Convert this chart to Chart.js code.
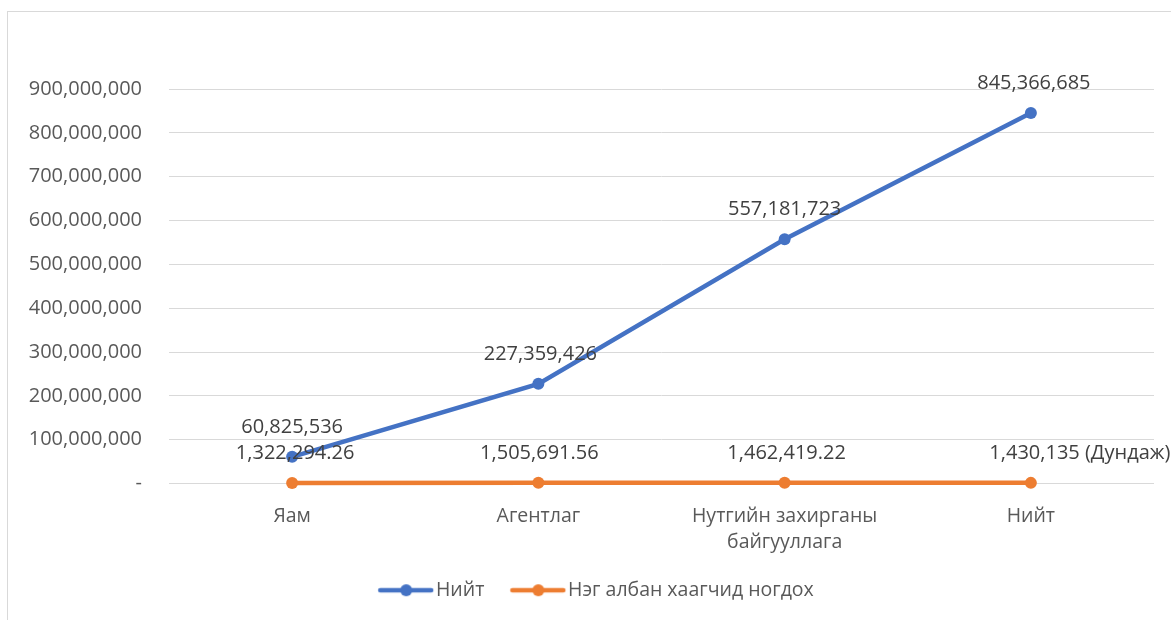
<!DOCTYPE html>
<html><head><meta charset="utf-8">
<script src="https://cdn.jsdelivr.net/npm/chart.js@4.4.0/dist/chart.umd.min.js"></script>
<style>
html,body{margin:0;padding:0;background:#fff;overflow:hidden;}
#wrap{position:relative;width:1171px;height:620px;overflow:hidden;}
#frame{position:absolute;left:7px;top:11px;width:1300px;height:800px;border:1px solid #d9d9d9;box-sizing:border-box;}
canvas{position:absolute;left:0;top:0;}
</style></head><body>
<div id="wrap"><div id="frame"></div><canvas id="c" width="1171" height="620"></canvas></div>
<script>
const categories = ['Яам', 'Агентлаг', ['Нутгийн захирганы', 'байгууллага'], 'Нийт'];
const seriesNames = ['Нийт', 'Нэг албан хаагчид ногдох'];
const totalValues = [60825536, 227359426, 557181723, 845366685];
const perEmployeeValues = [1322294.26, 1505691.56, 1462419.22, 1430135];
const totalLabels = ['60,825,536', '227,359,426', '557,181,723', '845,366,685'];
const perEmployeeLabels = ['1,322,294.26', '1,505,691.56', '1,462,419.22', '1,430,135 (Дундаж)'];
const yTicks = [0, 100000000, 200000000, 300000000, 400000000, 500000000, 600000000, 700000000, 800000000, 900000000];

const FONT = '"Open Sans", "Noto Sans", sans-serif';
const BLUE = '#4472C4', ORANGE = '#ED7D31';

function legendIcon(color) {
  const c = document.createElement('canvas');
  c.width = 84; c.height = 14;
  const x = c.getContext('2d');
  x.strokeStyle = color; x.lineWidth = 4.5; x.lineCap = 'round';
  x.beginPath(); x.moveTo(28, 7); x.lineTo(79, 7); x.stroke();
  x.fillStyle = color; x.beginPath(); x.arc(54, 7, 6, 0, Math.PI * 2); x.fill();
  return c;
}
const icons = [legendIcon(BLUE), legendIcon(ORANGE)];

const labelPlugin = {
  id: 'valueLabels',
  afterDatasetsDraw(chart, args, opts) {
    const ctx = chart.ctx;
    ctx.save();
    ctx.font = '20px ' + FONT;
    ctx.fillStyle = '#404040';
    ctx.textAlign = 'center';
    ctx.textBaseline = 'middle';
    opts.texts.forEach((arr, di) => {
      const meta = chart.getDatasetMeta(di);
      meta.data.forEach((pt, i) => {
        ctx.fillText(arr[i], pt.x + opts.dx[di][i], pt.y - 30);
      });
    });
    ctx.restore();
  }
};

new Chart(document.getElementById('c'), {
  type: 'line',
  data: {
    labels: categories,
    datasets: [
      { label: seriesNames[0], data: totalValues, borderColor: BLUE, backgroundColor: BLUE, clip: false,
        borderWidth: 4.5, pointRadius: 6, pointHoverRadius: 6, pointBackgroundColor: BLUE, pointBorderWidth: 0, tension: 0 },
      { label: seriesNames[1], data: perEmployeeValues, borderColor: ORANGE, backgroundColor: ORANGE, clip: false,
        borderWidth: 4.5, pointRadius: 6, pointHoverRadius: 6, pointBackgroundColor: ORANGE, pointBorderWidth: 0, tension: 0 }
    ]
  },
  options: {
    responsive: false,
    animation: false,
    layout: { padding: { top: 89, right: 17, left: 22, bottom: 10 } },
    scales: {
      x: {
        offset: true,
        grid: { display: false, drawTicks: false },
        border: { display: false },
        ticks: { color: '#595959', font: { family: FONT, size: 19.5, lineHeight: 1.33 }, padding: 20, maxRotation: 0, autoSkip: false },
        afterFit: s => { s.height = 87; }
      },
      y: {
        min: 0, max: 900000000,
        afterBuildTicks: s => { s.ticks = yTicks.map(v => ({ value: v })); },
        grid: { color: '#d9d9d9', lineWidth: 1, drawTicks: false },
        border: { display: false },
        ticks: { color: '#595959', font: { family: FONT, size: 20 }, padding: 27,
          callback: v => v === 0 ? '-' : Number(v).toLocaleString('en-US') },
        afterFit: s => { s.width = 147; }
      }
    },
    plugins: {
      tooltip: { enabled: false },
      legend: {
        position: 'bottom',
        labels: {
          usePointStyle: true, pointStyleWidth: 64, padding: 10,
          color: '#595959', font: { family: FONT, size: 19.5 },
          generateLabels: chart => chart.data.datasets.map((d, i) => ({
            text: d.label, pointStyle: icons[i], fontColor: '#595959', datasetIndex: i,
            lineWidth: 0, strokeStyle: 'transparent', fillStyle: 'transparent'
          }))
        }
      },
      valueLabels: {
        texts: [totalLabels, perEmployeeLabels],
        dx: [[0, 2, 0, 3], [3, 1, 2, 49]]
      }
    }
  },
  plugins: [labelPlugin]
});
</script>
</body></html>
